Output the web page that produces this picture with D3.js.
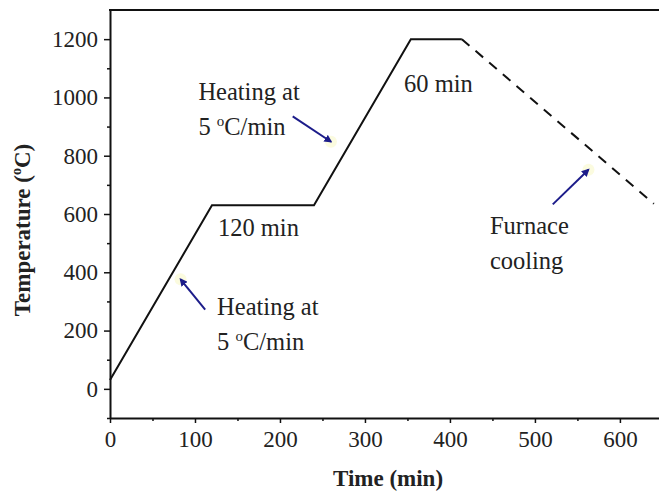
<!DOCTYPE html>
<html>
<head>
<meta charset="utf-8">
<script src="https://cdn.jsdelivr.net/npm/d3@7"></script>
<style>
  body { margin: 0; background: #fff; }
  svg text { font-family: "Liberation Serif", "Times New Roman", serif; fill: #222; }
</style>
</head>
<body>
<svg id="chart" width="659" height="495"></svg>
<script>
// heat treatment schedule (time in min, temperature in °C)
var heatTime = [0, 120, 240, 354, 414];
var heatTemp = [30, 630, 630, 1200, 1200];
var coolTime = [414, 640];
var coolTemp = [1200, 635];

var xTicks = [0, 100, 200, 300, 400, 500, 600];
var yTicks = [0, 200, 400, 600, 800, 1000, 1200];

// annotations: [x, y] in data units
var labels = [
  { lines: ["Heating at", "5 |C/min"], at: [104, 990] },
  { lines: ["Heating at", "5 |C/min"], at: [126, 254] },
  { lines: ["120 min"], at: [127, 523] },
  { lines: ["60 min"], at: [346, 1018] },
  { lines: ["Furnace", "cooling"], at: [447, 533] }
];
var arrows = [
  { from: [112, 272], to: [83, 376] },
  { from: [215, 935], to: [260, 848] },
  { from: [521, 633], to: [563, 752] }
];

var svg = d3.select("#chart"),
    mLeft = 110, mTop = 10, mRight = 659, mBottom = 418;

var x = d3.scaleLinear().domain([0, 646]).range([mLeft, mRight]);
var y = d3.scaleLinear().domain([-100, 1300]).range([mBottom, mTop]);

svg.append("defs").append("marker")
    .attr("id", "head")
    .attr("viewBox", "0 0 10 10")
    .attr("refX", 8).attr("refY", 5)
    .attr("markerWidth", 4).attr("markerHeight", 4)
    .attr("orient", "auto")
  .append("path")
    .attr("d", "M0,0 L10,5 L0,10 z")
    .attr("fill", "#1c1c8a");

// axes
svg.append("g")
    .attr("transform", "translate(0," + mBottom + ")")
    .call(d3.axisBottom(x).tickValues(xTicks).tickSize(5).tickSizeOuter(0).tickPadding(8).tickFormat(d3.format("d")));
svg.append("g")
    .attr("transform", "translate(0," + mBottom + ")")
    .call(d3.axisBottom(x).tickValues(d3.range(50, 646, 100)).tickSize(3).tickFormat(""))
    .select(".domain").remove();

svg.append("g")
    .attr("transform", "translate(" + mLeft + ",0)")
    .call(d3.axisLeft(y).tickValues(yTicks).tickSize(6).tickSizeOuter(0).tickPadding(6).tickFormat(d3.format("d")));
svg.append("g")
    .attr("transform", "translate(" + mLeft + ",0)")
    .call(d3.axisLeft(y).tickValues([-100, 100, 300, 500, 700, 900, 1100]).tickSize(3).tickFormat(""))
    .select(".domain").remove();

svg.selectAll(".domain").attr("stroke", "#111").attr("stroke-width", 2);
svg.selectAll(".tick line").attr("stroke", "#111").attr("stroke-width", 1.5);
svg.selectAll(".tick text")
    .attr("font-size", 23)
    .attr("font-family", "Liberation Serif, serif")
    .attr("fill", "#222");

// frame line on top
svg.append("line")
    .attr("x1", mLeft - 1).attr("x2", mRight)
    .attr("y1", mTop).attr("y2", mTop)
    .attr("stroke", "#111").attr("stroke-width", 2);

// schedule
var line = d3.line().x(function (d) { return x(d[0]); }).y(function (d) { return y(d[1]); });

svg.append("path")
    .datum(d3.zip(heatTime, heatTemp))
    .attr("d", line)
    .attr("fill", "none")
    .attr("stroke", "#111")
    .attr("stroke-width", 2);

svg.append("path")
    .datum(d3.zip(coolTime, coolTemp))
    .attr("d", line)
    .attr("fill", "none")
    .attr("stroke", "#111")
    .attr("stroke-width", 2)
    .attr("stroke-dasharray", "10,8");

// arrows
arrows.forEach(function (a) {
  svg.append("circle")
      .attr("cx", x(a.to[0])).attr("cy", y(a.to[1]))
      .attr("r", 6).attr("fill", "#f8f8c0").attr("opacity", 0.5);
  svg.append("line")
      .attr("x1", x(a.from[0])).attr("y1", y(a.from[1]))
      .attr("x2", x(a.to[0])).attr("y2", y(a.to[1]))
      .attr("stroke", "#1c1c8a")
      .attr("stroke-width", 2)
      .attr("marker-end", "url(#head)");
});

// labels
labels.forEach(function (l) {
  l.lines.forEach(function (s, i) {
    var t = svg.append("text")
        .attr("x", x(l.at[0]))
        .attr("y", y(l.at[1]) + i * 35)
        .attr("font-size", 24.5);
    var parts = s.split("|");
    t.append("tspan").text(parts[0]);
    if (parts.length > 1) {
      t.append("tspan").attr("font-size", 15).attr("dy", -9).text("o");
      t.append("tspan").attr("dy", 9).text(parts[1]);
    }
  });
});

// axis titles
svg.append("text")
    .attr("x", 388).attr("y", 486)
    .attr("text-anchor", "middle")
    .attr("font-size", 23)
    .attr("font-weight", "bold")
    .text("Time (min)");

var yt = svg.append("text")
    .attr("transform", "translate(30,230) rotate(-90)")
    .attr("text-anchor", "middle")
    .attr("font-size", 23)
    .attr("font-weight", "bold");
yt.append("tspan").text("Temperature (");
yt.append("tspan").attr("font-size", 14).attr("dy", -9).text("o");
yt.append("tspan").attr("dy", 9).text("C)");
</script>
</body>
</html>
